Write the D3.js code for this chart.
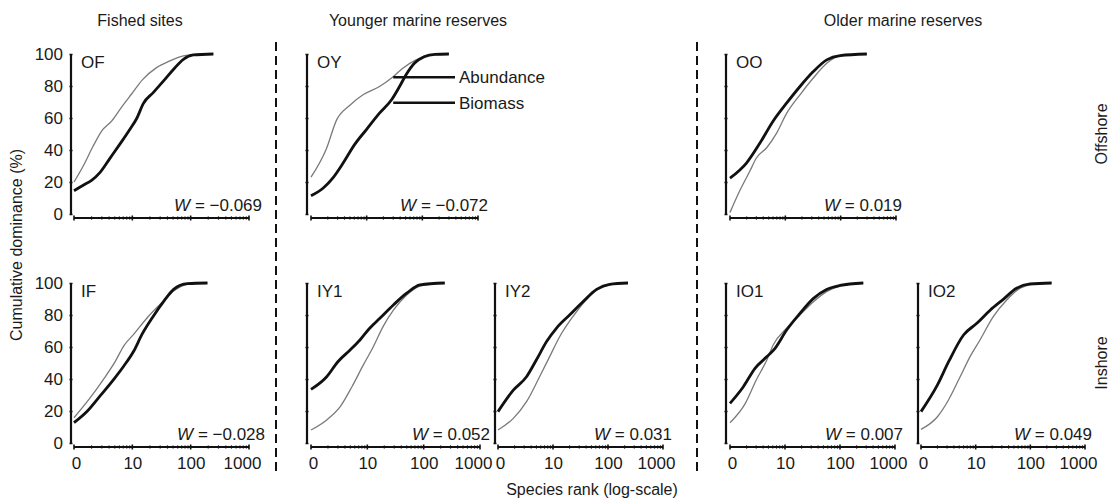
<!DOCTYPE html>
<html>
<head>
<meta charset="utf-8">
<script src="https://cdn.jsdelivr.net/npm/d3@7"></script>
<style>
  html, body { margin: 0; padding: 0; background: #fff; }
  svg { display: block; font-family: "Liberation Sans", Arial, sans-serif; }
</style>
</head>
<body>
<svg id="chart" width="1110" height="502"></svg>
<script>
// ---------------- DATA ----------------
const panelNames = ["OF", "OY", "OO", "IF", "IY1", "IY2", "IO1", "IO2"];
const wValues = ["\u22120.069", "\u22120.072", "0.019", "\u22120.028", "0.052", "0.031", "0.007", "0.049"];
const groupTitles = ["Fished sites", "Younger marine reserves", "Older marine reserves"];
const rowLabels = ["Offshore", "Inshore"];
const yTickValues = [0, 20, 40, 60, 80, 100];
const xTickValues = [1, 10, 100, 1000];
const xTickLabels = ["0", "10", "100", "1000"];
const seriesNames = ["Abundance", "Biomass"];

// cumulative dominance curves: [species rank, cumulative %]
const OF_abundance = [[1,20],[1.44,30],[2.1,42],[3,52],[4.4,58],[6.6,67],[9.7,75],[15,84],[26,91.5],[44,95.7],[75,98.8],[127,99.8],[245,100]];
const OF_biomass   = [[1,14.5],[1.44,18],[2,21],[2.8,26],[4.1,34.6],[6.2,44],[9.1,53],[12,60],[15.4,69],[23,76],[34,83],[51,90.5],[75,96.7],[111,99.4],[245,100]];
const OY_abundance = [[1,23],[1.9,41],[2.9,59],[5,68],[8.6,74.5],[17,79.7],[28,85],[44,91],[77,96.3],[133,99.4],[300,100]];
const OY_biomass   = [[1,11.4],[1.7,16.6],[2.5,22.8],[3.8,32],[6.1,43.5],[9.9,52.8],[17,63],[28,71.4],[39,79.7],[51,87],[72,94.2],[108,98.3],[168,99.8],[300,100]];
const OO_abundance = [[1,1],[1.5,14.5],[2.3,27],[3,35],[4.6,41.4],[7,50.7],[10.6,63],[18.4,74.5],[32,85],[56,94.2],[98,99],[297,100]];
const OO_biomass   = [[1,22.4],[2,32],[3.5,44.5],[6,58],[10.6,69.4],[18.4,79.7],[32,89],[56,96.3],[98,99],[297,100]];
const IF_abundance = [[1,15.8],[1.9,28.3],[3.2,39.8],[5.1,51],[7.1,60.6],[10.6,68],[18,78.3],[30,86.7],[51,95],[88,99.2],[194,100]];
const IF_biomass   = [[1,12.7],[1.7,20],[2.8,29.4],[4.8,39.8],[7.1,48],[10.6,57.5],[14.7,68],[22,78.3],[35,88.8],[51,96],[88,99.6],[194,100]];
const IY1_abundance = [[1,8.1],[1.9,14.4],[3.3,22.7],[5.3,35],[8.5,48.8],[12.7,60],[19,72.7],[29,83],[50,92.5],[86,98.1],[237,100]];
const IY1_biomass   = [[1,33.5],[1.9,41.4],[3,50.8],[4.9,58],[7.4,64.4],[11,71.7],[16.7,78],[29,86.3],[50,93.6],[86,98.8],[237,100]];
const IY2_abundance = [[1,8.1],[1.9,15.4],[3.3,25.8],[5.7,41.4],[8.7,54],[13.2,66.4],[23,79],[40,89.4],[70,96.7],[123,99.2],[231,100]];
const IY2_biomass   = [[1,19.6],[1.9,33],[3.3,41.4],[5,52],[7.6,63.3],[11.5,71.7],[20,80],[35,88.3],[62,96],[107,99.2],[231,100]];
const IO1_abundance = [[1,12.7],[1.9,24.8],[3,39.4],[4.7,52],[6.1,61.3],[10.7,71.7],[18.7,80],[33,88.3],[57,94.6],[100,98.1],[265,100]];
const IO1_biomass   = [[1,24.8],[1.75,35.2],[2.85,46.7],[4.7,54],[6.6,59.2],[10.7,70.6],[18.7,81],[33,90.4],[57,96],[100,98.5],[265,100]];
const IO2_abundance = [[1,8.5],[2,16.4],[3.2,27],[5.2,41.4],[7.9,54],[12,64.4],[21,79],[37,89.4],[65,96.7],[113,99.2],[245,100]];
const IO2_biomass   = [[1,19.6],[2,36.3],[3.2,50.8],[6,67.5],[10.5,74.8],[18.4,83],[32,89.8],[56,96.7],[99,99.4],[245,100]];

const curves = {
  OF: [OF_abundance, OF_biomass], OY: [OY_abundance, OY_biomass], OO: [OO_abundance, OO_biomass],
  IF: [IF_abundance, IF_biomass], IY1: [IY1_abundance, IY1_biomass], IY2: [IY2_abundance, IY2_biomass],
  IO1: [IO1_abundance, IO1_biomass], IO2: [IO2_abundance, IO2_biomass]
};

// ---------------- LAYOUT ----------------
const rows = [{ top: 54, bottom: 214 }, { top: 283, bottom: 443 }];
const layout = {
  OF:  { row: 0, yAxisX: 71,  x0: 74,  x1: 249, labels: true,  wRight: 262 },
  OY:  { row: 0, yAxisX: 307, x0: 311, x1: 478, labels: false, wRight: 488 },
  OO:  { row: 0, yAxisX: 726, x0: 730, x1: 896, labels: false, wRight: 902 },
  IF:  { row: 1, yAxisX: 71,  x0: 74,  x1: 249, labels: true,  wRight: 265 },
  IY1: { row: 1, yAxisX: 307, x0: 311, x1: 480, labels: false, wRight: 490 },
  IY2: { row: 1, yAxisX: 495, x0: 498, x1: 663, labels: false, wRight: 672 },
  IO1: { row: 1, yAxisX: 726, x0: 730, x1: 895, labels: false, wRight: 903 },
  IO2: { row: 1, yAxisX: 918, x0: 921, x1: 1085, labels: false, wRight: 1092 }
};
const FONT = 17;
const TEXT = "#1a1a1a";

const svg = d3.select("#chart");

const minorTicks = [];
[1, 10, 100].forEach(d => { for (let k = 2; k <= 9; k++) minorTicks.push(d * k); });

panelNames.forEach((name, i) => {
  const L = layout[name];
  const R = rows[L.row];
  const x = d3.scaleLog().domain([1, 1000]).range([L.x0, L.x1]);
  const y = d3.scaleLinear().domain([0, 100]).range([R.bottom, R.top]);
  const g = svg.append("g");

  // y axis
  const yAxis = d3.axisLeft(y).tickValues(yTickValues).tickSize(3).tickPadding(4)
    .tickFormat(L.labels ? d3.format("d") : () => "");
  const ya = g.append("g").attr("transform", `translate(${L.yAxisX},0)`).call(yAxis);
  ya.select(".domain").remove();
  ya.append("line").attr("x1", 0).attr("x2", 0).attr("y1", y(100)).attr("y2", y(0))
    .attr("stroke", "#111").attr("stroke-width", 2.2);
  ya.selectAll(".tick line").attr("stroke", "#111").attr("stroke-width", 1.5).attr("x1", 1.5).attr("x2", -1.5);
  ya.selectAll(".tick text").attr("font-size", FONT).attr("fill", TEXT)
    .attr("font-family", "Liberation Sans, Arial, sans-serif").attr("x", -8);

  // x axis
  const xAxisY = R.bottom + 4;
  const xAxis = d3.axisBottom(x).tickValues(xTickValues).tickSize(0).tickPadding(10)
    .tickFormat((d, j) => xTickLabels[j]);
  const xa = g.append("g").attr("transform", `translate(0,${xAxisY})`).call(xAxis);
  xa.select(".domain").remove();
  xa.append("line").attr("x1", x(1)).attr("x2", x(1000)).attr("stroke", "#111").attr("stroke-width", 2);
  xa.selectAll(".major").data(xTickValues).enter().append("line")
    .attr("x1", d => x(d)).attr("x2", d => x(d)).attr("y1", -2.5).attr("y2", 2.5)
    .attr("stroke", "#111").attr("stroke-width", 1.6);
  xa.selectAll(".minor").data(minorTicks).enter().append("line")
    .attr("x1", d => x(d)).attr("x2", d => x(d)).attr("y1", -1.6).attr("y2", 1.6)
    .attr("stroke", "#111").attr("stroke-width", 1.2);
  const tickText = xa.selectAll(".tick text").attr("font-size", FONT).attr("fill", TEXT)
    .attr("font-family", "Liberation Sans, Arial, sans-serif");
  if (L.row === 1) {
    tickText.attr("dx", (d) => d === 1000 ? -7 : (d === 1 ? 2 : 0));
  } else {
    tickText.remove();
  }

  // curves
  const line = d3.line().x(d => x(d[0])).y(d => y(d[1])).curve(d3.curveMonotoneX);
  const [ab, bm] = curves[name];
  g.append("path").datum(ab).attr("d", line).attr("fill", "none")
    .attr("stroke", "#7a7a7a").attr("stroke-width", 1.3);
  g.append("path").datum(bm).attr("d", line).attr("fill", "none")
    .attr("stroke", "#111").attr("stroke-width", 2.8);

  // panel label
  g.append("text").attr("x", L.yAxisX + 10).attr("y", R.top + 14)
    .attr("font-size", FONT).attr("fill", TEXT).text(name);

  // W statistic
  const wt = g.append("text").attr("x", L.wRight).attr("y", R.bottom - 3)
    .attr("text-anchor", "end").attr("font-size", FONT).attr("fill", TEXT);
  wt.append("tspan").attr("font-style", "italic").text("W");
  wt.append("tspan").text(" = " + wValues[i]);

  // legend (leader lines) in OY
  if (name === "OY") {
    const leaderX = 455;
    const anc = [
      { x: x(30), y: y(85.5) },
      { x: x(30), y: y(69.5) }
    ];
    seriesNames.forEach((s, k) => {
      g.append("line").attr("x1", anc[k].x).attr("x2", leaderX)
        .attr("y1", anc[k].y).attr("y2", anc[k].y)
        .attr("stroke", "#111").attr("stroke-width", 2.6);
      g.append("text").attr("x", leaderX + 4).attr("y", anc[k].y + 6)
        .attr("font-size", FONT).attr("fill", TEXT).text(s);
    });
  }
});

// group titles
const titleX = [140, 418, 903];
groupTitles.forEach((t, k) => {
  svg.append("text").attr("x", titleX[k]).attr("y", 26).attr("text-anchor", "middle")
    .attr("font-size", 16).attr("fill", TEXT).text(t);
});

// dashed separators
[276, 697].forEach(xx => {
  svg.append("line").attr("x1", xx).attr("x2", xx).attr("y1", 42).attr("y2", 472)
    .attr("stroke", "#111").attr("stroke-width", 2).attr("stroke-dasharray", "9,5");
});

// axis titles
svg.append("text").attr("x", 592).attr("y", 495).attr("text-anchor", "middle")
  .attr("font-size", 16).attr("fill", TEXT).text("Species rank (log-scale)");
svg.append("text").attr("transform", "translate(22,245) rotate(-90)").attr("text-anchor", "middle")
  .attr("font-size", 16).attr("fill", TEXT).text("Cumulative dominance (%)");

// row labels
const rowMid = rows.map(r => (r.top + r.bottom) / 2);
rowLabels.forEach((t, k) => {
  svg.append("text").attr("transform", `translate(1107,${rowMid[k]}) rotate(-90)`)
    .attr("text-anchor", "middle").attr("font-size", 16).attr("fill", TEXT).text(t);
});
</script>
</body>
</html>
